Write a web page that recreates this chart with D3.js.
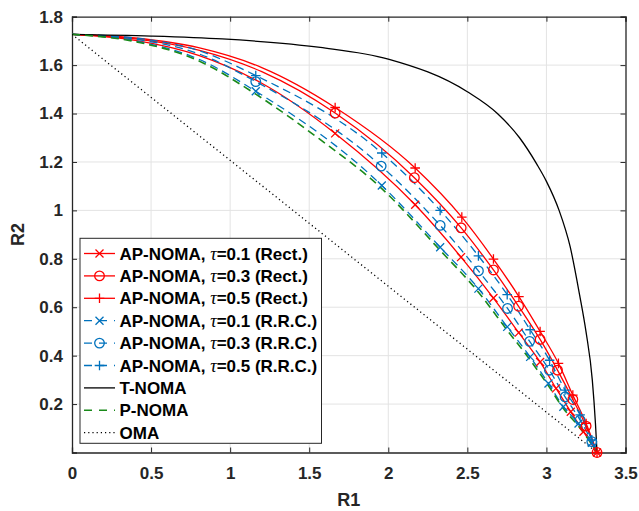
<!DOCTYPE html>
<html><head><meta charset="utf-8">
<script src="https://cdn.jsdelivr.net/npm/d3@7"></script>
<style>
html,body{margin:0;padding:0;background:#fff;}
svg{display:block;}
</style></head>
<body>
<svg id="chart" width="639" height="511"></svg>
<script>
// ---------------- DATA ----------------
const xTicks = [0, 0.5, 1, 1.5, 2, 2.5, 3, 3.5];
const yTicks = [0.2, 0.4, 0.6, 0.8, 1, 1.2, 1.4, 1.6, 1.8];
const xLabel = "R1";
const yLabel = "R2";

// AP-NOMA Rect. (red, solid)
const rect01Line  = [[0,1.727],[0.4,1.702],[0.8,1.640],[1.2,1.525]];
const rect01Marks = [[1.664,1.318],[2.17,1.023],[2.46,0.807],[2.665,0.638],[2.825,0.495],[2.96,0.374],[3.061,0.265],[3.154,0.168],[3.234,0.086],[3.32,0]];
const rect03Line  = [[0,1.727],[0.4,1.708],[0.8,1.662],[1.2,1.573]];
const rect03Marks = [[1.664,1.402],[2.165,1.135],[2.461,0.928],[2.665,0.754],[2.824,0.604],[2.96,0.467],[3.07,0.34],[3.167,0.219],[3.251,0.109],[3.32,0]];
const rect05Line  = [[0,1.727],[0.4,1.712],[0.8,1.672],[1.2,1.590]];
const rect05Marks = [[1.664,1.425],[2.17,1.175],[2.465,0.972],[2.665,0.799],[2.826,0.644],[2.96,0.50],[3.076,0.368],[3.167,0.237],[3.251,0.12],[3.32,0]];

// AP-NOMA R.R.C. (blue, dashed)
const rrc01Line  = [[0,1.727],[0.4,1.700],[0.8,1.625]];
const rrc01Marks = [[1.162,1.492],[1.959,1.103],[2.328,0.848],[2.57,0.677],[2.752,0.519],[2.897,0.395],[3.013,0.285],[3.107,0.189],[3.203,0.12],[3.287,0.04]];
const rrc03Line  = [[0,1.727],[0.4,1.707],[0.8,1.647]];
const rrc03Marks = [[1.162,1.532],[1.955,1.183],[2.328,0.938],[2.57,0.75],[2.754,0.595],[2.894,0.459],[3.019,0.34],[3.118,0.23],[3.213,0.134],[3.287,0.045]];
const rrc05Line  = [[0,1.727],[0.4,1.712],[0.8,1.660]];
const rrc05Marks = [[1.162,1.557],[1.959,1.237],[2.328,1.0],[2.57,0.812],[2.752,0.652],[2.897,0.507],[3.02,0.381],[3.118,0.258],[3.213,0.155],[3.287,0.052]];
const rrcEnd = [[3.32,0]];

// T-NOMA (black solid)
const tnoma = [[0,1.727],[0.5,1.72],[0.95,1.708],[1.57,1.673],[2.0,1.625],[2.5,1.49],[2.69,1.40],[2.83,1.30],[2.94,1.19],[3.0,1.12],[3.08,1.0],[3.15,0.85],[3.21,0.65],[3.25,0.5],[3.29,0.3],[3.31,0.12],[3.32,0]];
// P-NOMA (green dashed)
const pnoma = [[0,1.727],[0.4,1.697],[0.8,1.618],[1.162,1.480],[1.56,1.297],[1.959,1.090],[2.328,0.835],[2.57,0.662],[2.752,0.505],[2.897,0.382],[3.013,0.275],[3.107,0.182],[3.203,0.108],[3.287,0.033],[3.32,0]];
// OMA (black dotted)
const oma = [[0,1.727],[3.32,0]];

const legendLabels = [
  ["AP-NOMA, ", "τ", "=0.1 (Rect.)"],
  ["AP-NOMA, ", "τ", "=0.3 (Rect.)"],
  ["AP-NOMA, ", "τ", "=0.5 (Rect.)"],
  ["AP-NOMA, ", "τ", "=0.1 (R.R.C.)"],
  ["AP-NOMA, ", "τ", "=0.3 (R.R.C.)"],
  ["AP-NOMA, ", "τ", "=0.5 (R.R.C.)"],
  ["T-NOMA"],
  ["P-NOMA"],
  ["OMA"]
];

// ---------------- STYLE ----------------
const RED = "#ff0000", BLUE = "#0072bd", GREEN = "#1a8a1a", BLACK = "#000000";
const AX = "#262626";
const FONT = "'Liberation Sans', Arial, Helvetica, sans-serif";

const series = [
  {line: rect01Line, marks: rect01Marks, color: RED, dash: null, marker: "x"},
  {line: rect03Line, marks: rect03Marks, color: RED, dash: null, marker: "o"},
  {line: rect05Line, marks: rect05Marks, color: RED, dash: null, marker: "+"},
  {line: rrc01Line, marks: rrc01Marks, color: BLUE, dash: "8,5", marker: "x"},
  {line: rrc03Line, marks: rrc03Marks, color: BLUE, dash: "8,5", marker: "o"},
  {line: rrc05Line, marks: rrc05Marks, color: BLUE, dash: "8,5", marker: "+"},
  {line: tnoma, marks: [], color: BLACK, dash: null, marker: null},
  {line: pnoma, marks: [], color: GREEN, dash: "8,5", marker: null},
  {line: oma, marks: [], color: BLACK, dash: "1.2,3", marker: null}
];

// ---------------- LAYOUT ----------------
const L = 72, R = 625.5, T = 16.7, B = 452.5;
const x = d3.scaleLinear().domain([0, 3.5]).range([L, R]);
const y = d3.scaleLinear().domain([0, 1.8]).range([B, T]);

const svg = d3.select("#chart");
svg.append("rect").attr("width", 639).attr("height", 511).attr("fill", "#fff");

svg.append("defs").append("clipPath").attr("id", "clip")
  .append("rect").attr("x", L).attr("y", T).attr("width", R - L).attr("height", B - T);

// grid
const grid = svg.append("g").attr("stroke", "#e3e3e3").attr("stroke-width", 1);
grid.selectAll(".gx").data(xTicks.slice(1, -1)).join("line")
  .attr("x1", d => x(d)).attr("x2", d => x(d)).attr("y1", T).attr("y2", B);
grid.selectAll(".gy").data(yTicks.slice(0, -1)).join("line")
  .attr("x1", L).attr("x2", R).attr("y1", d => y(d)).attr("y2", d => y(d));

// axes
const axB = svg.append("g").attr("transform", `translate(0,${B})`)
  .call(d3.axisBottom(x).tickValues(xTicks).tickSize(-5).tickPadding(14).tickFormat(d3.format("")));
const axL = svg.append("g").attr("transform", `translate(${L},0)`)
  .call(d3.axisLeft(y).tickValues(yTicks).tickSize(-5).tickPadding(9).tickFormat(d3.format("")));
const axT = svg.append("g").attr("transform", `translate(0,${T})`)
  .call(d3.axisTop(x).tickValues(xTicks).tickSize(-5).tickFormat(""));
const axR = svg.append("g").attr("transform", `translate(${R},0)`)
  .call(d3.axisRight(y).tickValues(yTicks).tickSize(-5).tickFormat(""));
[axB, axL, axT, axR].forEach(g => {
  g.select(".domain").attr("stroke", AX).attr("stroke-width", 1.3);
  g.selectAll(".tick line").attr("stroke", AX).attr("stroke-width", 1);
  g.selectAll(".tick text").attr("fill", AX).attr("font-family", FONT)
    .attr("font-weight", "bold").attr("font-size", 17);
});

// lines
const lineGen = d3.line().x(d => x(d[0])).y(d => y(d[1])).curve(d3.curveMonotoneX);
const plot = svg.append("g").attr("clip-path", "url(#clip)");

function markerPath(type, s) {
  const h = s / 2;
  if (type === "x") return `M${-h},${-h}L${h},${h}M${-h},${h}L${h},${-h}`;
  if (type === "+") return `M${-h - 0.8},0L${h + 0.8},0M0,${-h - 0.8}L0,${h + 0.8}`;
  if (type === "o") return d3.arc()({innerRadius: 0, outerRadius: h + 0.8, startAngle: 0, endAngle: 2 * Math.PI});
  return "";
}

series.forEach((s, i) => {
  const pts = s.line.concat(s.marks).sort((a, b) => a[0] - b[0]);
  if (s.color === BLUE) pts.push(...rrcEnd);
  plot.append("path").datum(pts)
    .attr("d", lineGen)
    .attr("fill", "none").attr("stroke", s.color)
    .attr("stroke-width", s.color === GREEN ? 1.6 : 1.3)
    .attr("stroke-dasharray", s.dash);
});

// markers (red drawn last so the end circle is red)
const order = [3, 4, 5, 0, 1, 2];
order.forEach(i => {
  const s = series[i];
  svg.append("g").selectAll("path").data(s.marks).join("path")
    .attr("transform", d => `translate(${x(d[0])},${y(d[1])})`)
    .attr("d", markerPath(s.marker, 8))
    .attr("fill", "none").attr("stroke", s.color).attr("stroke-width", 1.3);
});

// legend
const lg = svg.append("g");
const lx0 = 80, ly0 = 238.3, lw = 241.5, lh = 205;
lg.append("rect").attr("x", lx0).attr("y", ly0).attr("width", lw).attr("height", lh)
  .attr("fill", "#fff").attr("stroke", "#262626").attr("stroke-width", 1);
legendLabels.forEach((lab, i) => {
  const s = series[i];
  const cy = 253.5 + i * 22.4;
  lg.append("line").attr("x1", 84).attr("x2", 115).attr("y1", cy).attr("y2", cy)
    .attr("stroke", s.color).attr("stroke-width", s.color === GREEN ? 1.6 : 1.3)
    .attr("stroke-dasharray", s.dash === "8,5" ? "8,7" : s.dash);
  if (s.marker) {
    lg.append("path").attr("transform", `translate(99.5,${cy})`)
      .attr("d", markerPath(s.marker, 8))
      .attr("fill", "none").attr("stroke", s.color).attr("stroke-width", 1.3);
  }
  const t = lg.append("text").attr("x", 119.5).attr("y", cy + 6)
    .attr("font-family", FONT).attr("font-weight", "bold").attr("font-size", 17)
    .attr("fill", "#000");
  t.append("tspan").text(lab[0]);
  if (lab.length > 1) {
    t.append("tspan").text(lab[1]).attr("font-family", "'Liberation Serif','DejaVu Serif',serif")
      .attr("font-style", "italic").attr("font-weight", "normal").attr("font-size", 18);
    t.append("tspan").text(lab[2]);
  }
});

// axis labels
svg.append("text").attr("x", (L + R) / 2).attr("y", 506).attr("text-anchor", "middle")
  .attr("font-family", FONT).attr("font-weight", "bold").attr("font-size", 18).attr("fill", AX)
  .text(xLabel);
svg.append("text").attr("transform", `translate(24,${(T + B) / 2}) rotate(-90)`)
  .attr("text-anchor", "middle")
  .attr("font-family", FONT).attr("font-weight", "bold").attr("font-size", 18).attr("fill", AX)
  .text(yLabel);
</script>
</body></html>
